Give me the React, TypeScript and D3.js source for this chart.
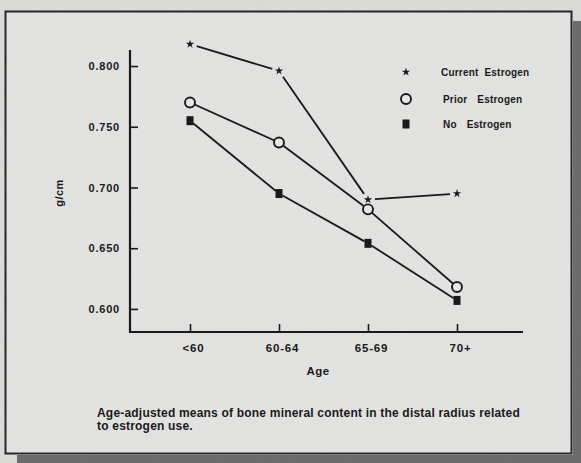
import { useEffect, useRef } from 'react';
import * as d3 from 'd3';

const ageGroups = ['<60', '60-64', '65-69', '70+'];
const currentEstrogen = [0.818, 0.796, 0.690, 0.695];
const priorEstrogen = [0.770, 0.737, 0.682, 0.618];
const noEstrogen = [0.755, 0.695, 0.654, 0.607];
const yTicks = [0.6, 0.65, 0.7, 0.75, 0.8];
const legendLabels = ['Current Estrogen', 'Prior Estrogen', 'No Estrogen'];

const W = 581;
const H = 463;
const INK = '#1a1a1a';
const PAPER = '#e7e7e5';
const FONT = '"Liberation Sans", Arial, Helvetica, sans-serif';

export default function App() {
    const svgRef = useRef<SVGSVGElement>(null);

    useEffect(() => {
        if (!svgRef.current) return;
        const svg = d3.select(svgRef.current);
        svg.selectAll('*').remove();

        // paper texture
        const defs = svg.append('defs');
        const f = defs.append('filter').attr('id', 'grain').attr('x', 0).attr('y', 0).attr('width', 1).attr('height', 1);
        f.append('feTurbulence').attr('type', 'fractalNoise').attr('baseFrequency', 0.9).attr('numOctaves', 2).attr('seed', 3);
        f.append('feColorMatrix').attr('values', '0 0 0 0 0.4  0 0 0 0 0.4  0 0 0 0 0.4  0 0 0 0.18 0');
        f.append('feComposite').attr('in2', 'SourceGraphic').attr('operator', 'in');

        svg.append('rect').attr('width', W).attr('height', H).attr('fill', '#dededc');
        // drop shadow of the card
        svg.append('rect').attr('x', 573).attr('y', 21).attr('width', 8).attr('height', H - 21).attr('fill', '#666');
        svg.append('rect').attr('x', 17).attr('y', 455).attr('width', W - 17).attr('height', 8).attr('fill', '#666');
        // card
        svg.append('rect')
            .attr('x', 5.5).attr('y', 11.5).attr('width', 566).attr('height', 442)
            .attr('fill', PAPER).attr('stroke', INK).attr('stroke-width', 2);
        svg.append('rect').attr('width', W).attr('height', H).attr('fill', '#fff').attr('filter', 'url(#grain)');

        const x = d3.scalePoint<string>().domain(ageGroups).range([190, 457]);
        const y = d3.scaleLinear().domain([0.581, 0.8132]).range([332, 50]);

        const g = svg.append('g').attr('font-family', FONT).attr('font-weight', 'bold').attr('fill', INK);

        // axes
        g.append('line').attr('x1', 130).attr('x2', 130).attr('y1', 50).attr('y2', 333)
            .attr('stroke', INK).attr('stroke-width', 2.2);
        g.append('line').attr('x1', 129).attr('x2', 523).attr('y1', 332).attr('y2', 332)
            .attr('stroke', INK).attr('stroke-width', 2.2);

        const yAxis = d3.axisLeft(y).tickValues(yTicks).tickFormat(d3.format('.3f'))
            .tickSizeInner(-8).tickSizeOuter(0).tickPadding(10);
        const ya = g.append('g').attr('transform', 'translate(130,0)').call(yAxis);
        ya.select('.domain').remove();
        ya.selectAll('line').attr('stroke', INK).attr('stroke-width', 1.6);
        ya.selectAll('text').attr('font-family', FONT).attr('font-size', 11).attr('font-weight', 'bold')
            .attr('letter-spacing', 0.8).attr('fill', INK);

        const xAxis = d3.axisBottom(x).tickSizeInner(-8).tickSizeOuter(0).tickPadding(10);
        const xa = g.append('g').attr('transform', 'translate(0,332)').call(xAxis);
        xa.select('.domain').remove();
        xa.selectAll('line').attr('stroke', INK).attr('stroke-width', 1.6);
        xa.selectAll('text').attr('font-family', FONT).attr('font-size', 11.5).attr('font-weight', 'bold')
            .attr('letter-spacing', 0.8).attr('fill', INK).attr('dx', 3).attr('dy', '0.9em');

        g.append('text').attr('x', 318).attr('y', 375).attr('text-anchor', 'middle').attr('font-size', 11.5)
            .attr('letter-spacing', 0.5).text('Age');
        g.append('text').attr('transform', 'translate(63,193) rotate(-90)').attr('text-anchor', 'middle')
            .attr('font-size', 11).attr('letter-spacing', 0.4).text('g/cm');

        // lines with small gaps at the markers
        const drawSeries = (vals: number[], gap: number) => {
            for (let i = 0; i < vals.length - 1; i++) {
                const x1 = x(ageGroups[i])!, y1 = y(vals[i]);
                const x2 = x(ageGroups[i + 1])!, y2 = y(vals[i + 1]);
                const len = Math.hypot(x2 - x1, y2 - y1);
                const ux = (x2 - x1) / len, uy = (y2 - y1) / len;
                g.append('line')
                    .attr('x1', x1 + ux * gap).attr('y1', y1 + uy * gap)
                    .attr('x2', x2 - ux * gap).attr('y2', y2 - uy * gap)
                    .attr('stroke', INK).attr('stroke-width', 1.8);
            }
        };
        drawSeries(currentEstrogen, 7);
        drawSeries(priorEstrogen, 5);
        drawSeries(noEstrogen, 4);

        const star = d3.symbol().type(d3.symbolStar).size(22);
        const drawStar = (cx: number, cy: number) =>
            g.append('path').attr('d', star()).attr('transform', `translate(${cx},${cy})`).attr('fill', INK);
        const drawCircle = (cx: number, cy: number) =>
            g.append('circle').attr('cx', cx).attr('cy', cy).attr('r', 5)
                .attr('fill', PAPER).attr('stroke', INK).attr('stroke-width', 1.9);
        const drawSquare = (cx: number, cy: number) =>
            g.append('rect').attr('x', cx - 3.5).attr('y', cy - 4.5).attr('width', 7).attr('height', 9).attr('fill', INK);

        currentEstrogen.forEach((v, i) => drawStar(x(ageGroups[i])!, y(v)));
        priorEstrogen.forEach((v, i) => drawCircle(x(ageGroups[i])!, y(v)));
        noEstrogen.forEach((v, i) => drawSquare(x(ageGroups[i])!, y(v)));

        // legend
        const legendY = [72, 99, 124];
        const legendX = [441, 443, 443];
        drawStar(406, legendY[0]);
        drawCircle(406, legendY[1]);
        drawSquare(406, legendY[2]);
        legendLabels.forEach((label, i) => {
            g.append('text').attr('x', legendX[i]).attr('y', legendY[i]).attr('dy', '0.35em')
                .attr('font-size', 10).attr('letter-spacing', 0.2).attr('word-spacing', i === 0 ? 3 : 7)
                .text(label);
        });

        // caption
        const cap = g.append('text').attr('font-size', 12).attr('letter-spacing', 0.2);
        cap.append('tspan').attr('x', 97).attr('y', 417)
            .text('Age-adjusted means of bone mineral content in the distal radius related');
        cap.append('tspan').attr('x', 97).attr('y', 430).text('to estrogen use.');
    }, []);

    return (
        <svg
            ref={svgRef}
            width={W}
            height={H}
            viewBox={`0 0 ${W} ${H}`}
            style={{ position: 'absolute', left: 0, top: 0, display: 'block' }}
        />
    );
}
